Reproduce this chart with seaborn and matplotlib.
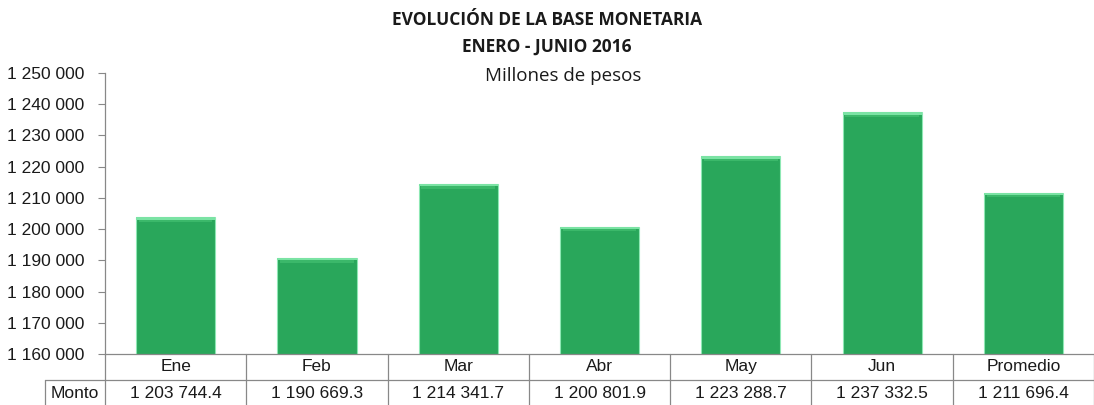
import numpy as np
import pandas as pd
import matplotlib
matplotlib.use("Agg")
import matplotlib.pyplot as plt
import matplotlib.transforms as mtransforms
import seaborn as sns

# ==========================================
# Data
# ==========================================
meses = ["Ene", "Feb", "Mar", "Abr", "May", "Jun", "Promedio"]
monto = [1203744.4, 1190669.3, 1214341.7, 1200801.9, 1223288.7, 1237332.5, 1211696.4]
y_ticks = [1160000, 1170000, 1180000, 1190000, 1200000, 1210000, 1220000, 1230000, 1240000, 1250000]

df = pd.DataFrame({"mes": meses, "monto": monto})


def fmt_miles(v, dec=0):
    s = f"{v:,.{dec}f}"
    return s.replace(",", " ")


sns.set_style("white")
plt.rcParams["font.family"] = ["Liberation Sans", "DejaVu Sans"]

fig = plt.figure(figsize=(10.94, 4.05), dpi=100)
ax = fig.add_axes([0.096, 0.126, 0.904, 0.694])

bar_green = "#29a75b"
sns.barplot(data=df, x="mes", y="monto", color=bar_green, width=0.56,
            edgecolor="#8ee8b4", linewidth=0.8, saturation=1, ax=ax)

# bevel highlight on top of each bar
top_h = 700
ax.bar(np.arange(len(meses)), [top_h] * len(meses), bottom=np.array(monto) - top_h,
       width=0.56, color="#7be3a4", edgecolor="none", zorder=3)
ax.bar(np.arange(len(meses)), [top_h] * len(meses), bottom=np.array(monto) - 2 * top_h,
       width=0.52, color="#3bb86a", edgecolor="none", zorder=3)

ax.set_ylim(y_ticks[0], y_ticks[-1])
ax.set_xlim(-0.5, len(meses) - 0.5)
ax.set_yticks(y_ticks)
ax.set_yticklabels([fmt_miles(t) for t in y_ticks], fontsize=12.5, color="#1a1a1a")
ax.tick_params(axis="y", which="both", left=True, length=5, width=0.8, color="#888888", pad=10)
ax.set_xticks([])
ax.set_xlabel("")
ax.set_ylabel("")
for side in ["top", "right"]:
    ax.spines[side].set_visible(False)
for side in ["left", "bottom"]:
    ax.spines[side].set_color("#888888")
    ax.spines[side].set_linewidth(0.9)

# ==========================================
# Data table under the axis
# ==========================================
trans = mtransforms.blended_transform_factory(ax.transData, ax.transAxes)
row_mid = -0.0925
row_bot = -0.185
line_kw = dict(color="#888888", linewidth=0.9, clip_on=False)
for i, (m, v) in enumerate(zip(meses, monto)):
    ax.text(i, -0.046, m, transform=trans, ha="center", va="center", fontsize=12.5, color="#1a1a1a")
    ax.text(i, -0.139, fmt_miles(v, 1), transform=trans, ha="center", va="center",
            fontsize=12.5, color="#1a1a1a")
for b in np.arange(len(meses) + 1) - 0.5:
    ax.plot([b, b], [0, row_bot], transform=trans, **line_kw)

# horizontal separator and the Monto header cell
x_left_fig = 45 / 1094
fig_trans = fig.transFigure
y_mid_fig = 1 - 380 / 405
ax.plot([-0.5, len(meses) - 0.5], [row_mid, row_mid], transform=trans, **line_kw)
fig.add_artist(plt.Line2D([x_left_fig, 0.096], [y_mid_fig, y_mid_fig], transform=fig_trans,
                          color="#888888", linewidth=0.9))
fig.add_artist(plt.Line2D([x_left_fig, x_left_fig], [0, y_mid_fig], transform=fig_trans,
                          color="#888888", linewidth=0.9))
fig.text(75 / 1094, 1 - 393 / 405, "Monto", ha="center", va="center", fontsize=12.5, color="#1a1a1a")

# ==========================================
# Titles
# ==========================================
fig.text(0.5, 1 - 20 / 405, "EVOLUCIÓN DE LA BASE MONETARIA", ha="center", va="center",
         fontsize=12.5, fontweight="bold", family=["Open Sans", "DejaVu Sans"], color="#1a1a1a")
fig.text(0.5, 1 - 47 / 405, "ENERO - JUNIO 2016", ha="center", va="center",
         fontsize=12.5, fontweight="bold", family=["Open Sans", "DejaVu Sans"], color="#1a1a1a")
fig.text(0.515, 1 - 76 / 405, "Millones de pesos", ha="center", va="center",
         fontsize=13.5, family=["Open Sans", "DejaVu Sans"], color="#1a1a1a")

fig.savefig("out.png", dpi=100)
